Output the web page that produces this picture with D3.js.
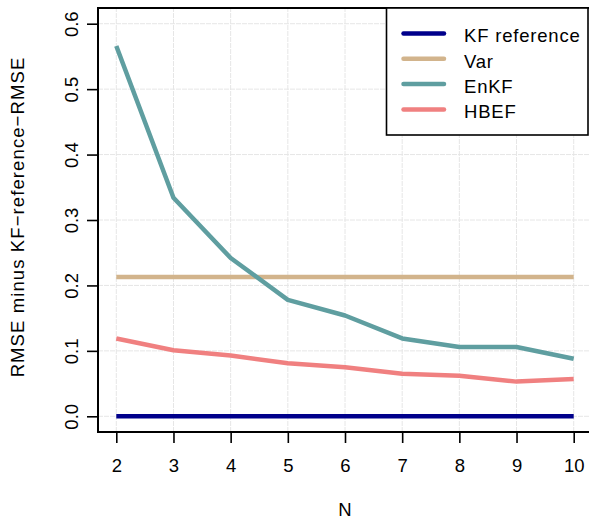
<!DOCTYPE html>
<html>
<head>
<meta charset="utf-8">
<script src="https://cdn.jsdelivr.net/npm/d3@7"></script>
<style>
  body { margin: 0; background: #fff; }
  svg { display: block; font-family: "Liberation Sans", Arial, sans-serif; }
</style>
</head>
<body>
<svg id="chart" width="589" height="521"></svg>
<script>
const ensembleSizes = [2, 3, 4, 5, 6, 7, 8, 9, 10];
const kfReference = [0, 0, 0, 0, 0, 0, 0, 0, 0];
const varMethod = [0.213, 0.213, 0.213, 0.213, 0.213, 0.213, 0.213, 0.213, 0.213];
const enkf = [0.566, 0.334, 0.242, 0.178, 0.154, 0.119, 0.106, 0.106, 0.088];
const hbef = [0.119, 0.101, 0.093, 0.081, 0.075, 0.065, 0.062, 0.053, 0.057];
const xTicks = [2, 3, 4, 5, 6, 7, 8, 9, 10];
const yTicks = [0.0, 0.1, 0.2, 0.3, 0.4, 0.5, 0.6];

const series = [
  { name: "KF reference", values: kfReference, color: "#00008B" },
  { name: "Var", values: varMethod, color: "#D2B48C" },
  { name: "EnKF", values: enkf, color: "#5F9EA0" },
  { name: "HBEF", values: hbef, color: "#F08080" }
];

const svg = d3.select("#chart");
const margin = { top: 8, right: -3, bottom: 89, left: 98 };
const width = 589, height = 521;

// R style 4% padding around the data range
const x = d3.scaleLinear()
  .domain([2 - 0.32, 10 + 0.32])
  .range([margin.left, width - margin.right]);
const y = d3.scaleLinear()
  .domain([-0.024, 0.624])
  .range([height - margin.bottom, margin.top]);

// grid
const grid = svg.append("g").attr("stroke", "#e6e6e6").attr("stroke-width", 1)
  .attr("stroke-dasharray", "5,1");
grid.selectAll("line.gx").data(xTicks).join("line")
  .attr("x1", d => x(d)).attr("x2", d => x(d))
  .attr("y1", y.range()[0]).attr("y2", y.range()[1]);
grid.selectAll("line.gy").data(yTicks).join("line")
  .attr("y1", d => y(d)).attr("y2", d => y(d))
  .attr("x1", x.range()[0]).attr("x2", x.range()[1]);

// lines
const line = d3.line()
  .x((d, i) => x(ensembleSizes[i]))
  .y(d => y(d));

svg.append("g").selectAll("path").data(series).join("path")
  .attr("fill", "none")
  .attr("stroke", d => d.color)
  .attr("stroke-width", 4.5)
  .attr("stroke-linejoin", "round")
  .attr("d", d => line(d.values));

// axes
const xAxis = svg.append("g")
  .attr("transform", `translate(0,${y.range()[0]})`)
  .call(d3.axisBottom(x).tickValues(xTicks).tickFormat(d3.format("d")).tickSize(11).tickPadding(16));
const yAxis = svg.append("g")
  .attr("transform", `translate(${x.range()[0]},0)`)
  .call(d3.axisLeft(y).tickValues(yTicks).tickFormat(d3.format(".1f")).tickSize(11));

[xAxis, yAxis].forEach(g => {
  g.select(".domain").remove();
  g.selectAll(".tick line").attr("stroke", "#000").attr("stroke-width", 1.6);
  g.selectAll("text").attr("font-size", 18.5).attr("fill", "#000")
    .attr("font-family", "Liberation Sans, Arial, sans-serif");
});
yAxis.selectAll(".tick text")
  .attr("x", null).attr("dy", null)
  .attr("text-anchor", "middle")
  .attr("transform", "translate(-27,0) rotate(-90)")
  .attr("dominant-baseline", "central");

// plot box
svg.append("rect")
  .attr("x", x.range()[0]).attr("y", y.range()[1])
  .attr("width", x.range()[1] - x.range()[0])
  .attr("height", y.range()[0] - y.range()[1])
  .attr("fill", "none").attr("stroke", "#000").attr("stroke-width", 2);

// axis titles
svg.append("text")
  .attr("x", (x.range()[0] + x.range()[1]) / 2)
  .attr("y", 516)
  .attr("text-anchor", "middle")
  .attr("font-size", 18.5)
  .text("N");
svg.append("text")
  .attr("transform", `translate(24,${(y.range()[0] + y.range()[1]) / 2 - 3}) rotate(-90)`)
  .attr("text-anchor", "middle")
  .attr("font-size", 18.5)
  .attr("letter-spacing", 1.1)
  .text("RMSE minus KF\u2212reference\u2212RMSE");

// legend
const legend = svg.append("g");
legend.append("rect")
  .attr("x", 386.5).attr("y", 8)
  .attr("width", 201.5).attr("height", 127)
  .attr("fill", "#fff").attr("stroke", "#000").attr("stroke-width", 1.6);
const rows = legend.selectAll("g.row").data(series).join("g")
  .attr("transform", (d, i) => `translate(0,${33.5 + i * 25.3})`);
rows.append("line")
  .attr("x1", 403.5).attr("x2", 444)
  .attr("stroke", d => d.color).attr("stroke-width", 4.5).attr("stroke-linecap", "round");
rows.append("text")
  .attr("x", 464).attr("y", 2.5).attr("dy", "0.35em")
  .attr("font-size", 18.5)
  .attr("letter-spacing", 0.8)
  .text(d => d.name);
</script>
</body>
</html>
